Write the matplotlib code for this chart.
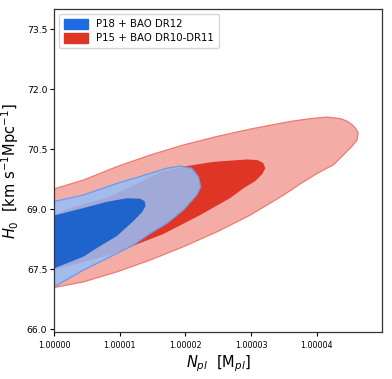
import matplotlib
matplotlib.use("Agg")
import matplotlib.pyplot as plt
import numpy as np
from matplotlib.patches import Patch

# contour outlines, x in units of 1e-5 above N_pl = 1
red95_x = [0, 0.443, 0.953, 1.461, 1.965, 2.469, 2.99, 3.598, 3.904, 4.159, 4.362, 4.462,
           4.54, 4.598, 4.632, 4.617, 4.58, 4.54, 4.412, 4.26, 4.006, 3.75, 3.496, 2.988,
           2.479, 1.969, 1.461, 0.953, 0.443, 0]
red95_y = [69.505, 69.725, 70.06, 70.35, 70.6, 70.81, 71.0, 71.19, 71.26, 71.3, 71.26, 71.2,
           71.11, 71.01, 70.9, 70.73, 70.65, 70.57, 70.36, 70.11, 69.89, 69.63, 69.35, 68.85,
           68.43, 68.06, 67.725, 67.43, 67.18, 67.04]

red68_x = [0, 0.392, 0.831, 1.156, 1.614, 2.021, 2.427, 2.937, 3.095, 3.186, 3.217, 3.171,
           3.064, 2.885, 2.682, 2.224, 1.66, 1.354, 0.881, 0.392, 0]
red68_y = [68.875, 69.1, 69.3, 69.55, 69.925, 70.075, 70.18, 70.24, 70.225, 70.15, 70.02, 69.875,
           69.7, 69.52, 69.275, 68.85, 68.375, 68.18, 67.875, 67.65, 67.49]

blue95_x = [0, 0.443, 0.953, 1.461, 1.716, 1.919, 2.098, 2.198, 2.235, 2.174, 1.969, 1.716,
            1.461, 1.206, 0.953, 0.698, 0.443, 0]
blue95_y = [69.19, 69.35, 69.64, 69.89, 70.02, 70.075, 70.02, 69.81, 69.56, 69.35, 68.975, 68.64,
            68.39, 68.1, 67.89, 67.68, 67.475, 67.06]

blue68_x = [0, 0.443, 0.8, 1.105, 1.308, 1.377, 1.392, 1.339, 1.206, 0.953, 0.698, 0.443, 0]
blue68_y = [68.84, 69.025, 69.18, 69.27, 69.26, 69.2, 69.075, 68.925, 68.7, 68.325, 68.075,
            67.81, 67.52]

xticks = [0, 1, 2, 3, 4]
xtick_labels = ["1.00000", "1.00001", "1.00002", "1.00003", "1.00004"]
yticks = [66.0, 67.5, 69.0, 70.5, 72.0, 73.5]
labels = ["P18 + BAO DR12", "P15 + BAO DR10-DR11"]

fig = plt.figure(figsize=(3.92, 3.79), dpi=100)
ax = fig.add_axes([0.1385, 0.1232, 0.8365, 0.8530])

ax.fill(red95_x, red95_y, color="#f3aca6", lw=0)
ax.plot(red95_x, red95_y, color="#ef7a70", lw=0.9, solid_joinstyle="round")
ax.fill(red68_x, red68_y, color="#e03424", lw=0)
ax.fill(blue95_x, blue95_y, color="#95bff8", alpha=0.85, lw=0)
ax.plot(blue95_x, blue95_y, color="#6a9ae6", lw=0.9, solid_joinstyle="round")
ax.fill(blue68_x, blue68_y, color="#1f64cd", lw=0)

ax.set_xlim(0, 5.0)
ax.set_ylim(65.92, 74.0)
ax.set_xticks(xticks)
ax.set_xticklabels(xtick_labels)
ax.set_yticks(yticks)
ax.set_yticklabels(["%.1f" % v for v in yticks])
ax.tick_params(axis="x", labelsize=5.8, length=3, width=0.8, pad=3)
ax.tick_params(axis="y", labelsize=6.7, length=3, width=0.8, pad=2)
for s in ax.spines.values():
    s.set_color("#333333")
    s.set_linewidth(0.9)

ax.set_xlabel(r"$N_{pl}$  [M$_{pl}$]", fontsize=10.5, labelpad=3)
ax.set_ylabel(r"$H_0$  [km s$^{-1}$Mpc$^{-1}$]", fontsize=10.5, labelpad=4)

handles = [Patch(color="#1e6be6"), Patch(color="#e03424")]
ax.legend(handles, labels, loc="upper left", fontsize=7.3, handlelength=2.3,
          handleheight=1.1, borderpad=0.5, labelspacing=0.35, framealpha=0.8)

fig.savefig("out.png", dpi=100)
